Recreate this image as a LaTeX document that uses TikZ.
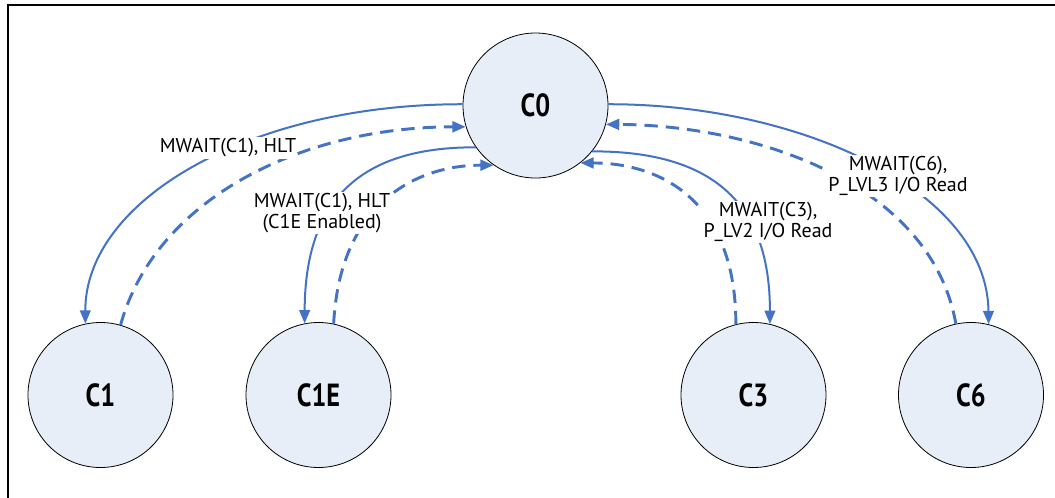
\documentclass[tikz,border=0pt]{standalone}
\usepackage{fontspec}
\setmainfont{PT Sans}
\newfontfamily\statefont[FakeStretch=0.82]{PT Sans}
\usetikzlibrary{arrows.meta}
\definecolor{edgeblue}{HTML}{4472C4}
\definecolor{nodefill}{HTML}{E8EEF8}
\begin{document}
\begin{tikzpicture}[x=0.75pt,y=-0.75pt,
  state/.style={circle, draw=black, line width=0.6pt, fill=nodefill,
    minimum size=108.75pt, inner sep=0pt,
    font=\statefont\fontsize{24}{28}\selectfont\bfseries},
  go/.style={draw=edgeblue, line width=1.5pt, -{Triangle[length=10pt,width=8pt]}},
  back/.style={draw=edgeblue, line width=2.2pt, dash pattern=on 10pt off 6pt,
    -{Triangle[length=10pt,width=8pt]}},
  lbl/.style={fill=white, inner sep=1pt, align=center,
    font=\fontsize{15}{16}\selectfont}]
\useasboundingbox (0,0) rectangle (1055,497);
\fill[white] (0,0) rectangle (1055,497);
\draw[line width=1.9pt, line cap=rect] (1055,5) -- (8,5) -- (8,497);

\node[state] (c0) at (535.5,105.5) {C0};
\node[state] (c1) at (100.5,395) {C1};
\node[state] (c1e) at (318.5,395) {C1E};
\node[state] (c3) at (753.5,395) {C3};
\node[state] (c6) at (971,395) {C6};

% C1
\draw[go] (c0.179) .. controls (250,104) and (85,200) .. (c1.102);
\draw[back] (c1.74) .. controls (155,200) and (300,127) .. (c0.197);
% C1E
\draw[go] (c0.215) .. controls (360,147) and (305,200) .. (c1e.101);
\draw[back] (c1e.78) .. controls (340,200) and (420,165) .. (c0.235);
% C3
\draw[back] (c3.104) .. controls (736,200) and (660,163) .. (c0.308);
\draw[go] (c0.321) .. controls (720,151) and (770,210) .. (c3.77);
% C6
\draw[back] (c6.102) .. controls (930,180) and (750,125) .. (c0.345);
\draw[go] (c0.1) .. controls (800,104) and (987,190) .. (c6.76);

\node[lbl] (l1) at (228,148) {MWAIT(C1), HLT};
\node[lbl] (l2) at (322,213) {MWAIT(C1), HLT\\(C1E Enabled)};
\node[lbl] (l3) at (768,222) {MWAIT(C3),\\P\_LV2 I/O Read};
\node[lbl] (l4) at (898,176) {MWAIT(C6),\\P\_LVL3 I/O Read};
\end{tikzpicture}
\end{document}
